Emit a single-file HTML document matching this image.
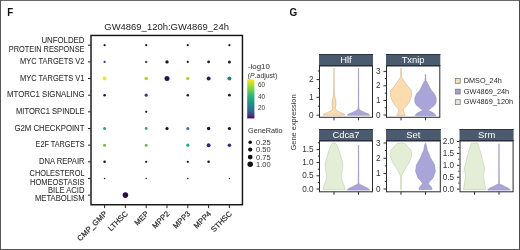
<!DOCTYPE html>
<html><head><meta charset="utf-8"><style>
html,body{margin:0;padding:0;background:#fff;width:520px;height:250px;overflow:hidden;position:relative}
text{font-family:"Liberation Sans", sans-serif}
text.k{stroke:#2a2a2a;stroke-width:0.05px}
text.kx{stroke:#2a2a2a;stroke-width:0.2px}
</style></head><body>
<svg width="520" height="250" viewBox="0 0 520 250" style="position:absolute;left:0;top:0;will-change:transform" font-family='"Liberation Sans", sans-serif'>
<rect x="0" y="0" width="520" height="250" fill="#fff"/>
<rect x="0" y="0" width="520" height="1" fill="#6a6a6a"/>
<rect x="0" y="0" width="1" height="250" fill="#575757"/>
<rect x="519" y="0" width="1" height="250" fill="#4a4a4a"/>
<rect x="0" y="249" width="520" height="1" fill="#555"/>
<text x="7.3" y="15.7" font-size="11" font-weight="bold" fill="#111" textLength="5.9" lengthAdjust="spacingAndGlyphs">F</text>
<text x="289.5" y="15.7" font-size="10" font-weight="bold" fill="#111" textLength="7.7" lengthAdjust="spacingAndGlyphs">G</text>
<text x="104.3" y="30.2" font-size="9.7" fill="#222" textLength="124.6" lengthAdjust="spacingAndGlyphs">GW4869_120h:GW4869_24h</text>
<rect x="91.0" y="35.45" width="151.45" height="169.3" fill="none" stroke="#151515" stroke-width="1.45"/>
<text x="41.4" y="42.5" class="k" font-size="8.2" fill="#2a2a2a" textLength="43.1" lengthAdjust="spacingAndGlyphs">UNFOLDED</text>
<text x="8.8" y="51.9" class="k" font-size="8.2" fill="#2a2a2a" textLength="75.7" lengthAdjust="spacingAndGlyphs">PROTEIN RESPONSE</text>
<line x1="88" x2="91.0" y1="45.2" y2="45.2" stroke="#222" stroke-width="1"/>
<text x="20.1" y="64.16" class="k" font-size="8.2" fill="#2a2a2a" textLength="64.4" lengthAdjust="spacingAndGlyphs">MYC TARGETS V2</text>
<line x1="88" x2="91.0" y1="61.86" y2="61.86" stroke="#222" stroke-width="1"/>
<text x="20" y="80.82000000000001" class="k" font-size="8.2" fill="#2a2a2a" textLength="64.5" lengthAdjust="spacingAndGlyphs">MYC TARGETS V1</text>
<line x1="88" x2="91.0" y1="78.52000000000001" y2="78.52000000000001" stroke="#222" stroke-width="1"/>
<text x="7" y="97.48" class="k" font-size="8.2" fill="#2a2a2a" textLength="77.5" lengthAdjust="spacingAndGlyphs">MTORC1 SIGNALING</text>
<line x1="88" x2="91.0" y1="95.18" y2="95.18" stroke="#222" stroke-width="1"/>
<text x="16" y="114.14" class="k" font-size="8.2" fill="#2a2a2a" textLength="68.5" lengthAdjust="spacingAndGlyphs">MITORC1 SPINDLE</text>
<line x1="88" x2="91.0" y1="111.84" y2="111.84" stroke="#222" stroke-width="1"/>
<text x="14.4" y="130.8" class="k" font-size="8.2" fill="#2a2a2a" textLength="70.1" lengthAdjust="spacingAndGlyphs">G2M CHECKPOINT</text>
<line x1="88" x2="91.0" y1="128.5" y2="128.5" stroke="#222" stroke-width="1"/>
<text x="35.6" y="147.46000000000004" class="k" font-size="8.2" fill="#2a2a2a" textLength="48.9" lengthAdjust="spacingAndGlyphs">E2F TARGETS</text>
<line x1="88" x2="91.0" y1="145.16000000000003" y2="145.16000000000003" stroke="#222" stroke-width="1"/>
<text x="39" y="164.12" class="k" font-size="8.2" fill="#2a2a2a" textLength="45.5" lengthAdjust="spacingAndGlyphs">DNA REPAIR</text>
<line x1="88" x2="91.0" y1="161.82" y2="161.82" stroke="#222" stroke-width="1"/>
<text x="29.6" y="176.1" class="k" font-size="8.2" fill="#2a2a2a" textLength="54.9" lengthAdjust="spacingAndGlyphs">CHOLESTEROL</text>
<text x="30" y="184.7" class="k" font-size="8.2" fill="#2a2a2a" textLength="54.5" lengthAdjust="spacingAndGlyphs">HOMEOSTASIS</text>
<line x1="88" x2="91.0" y1="178.48000000000002" y2="178.48000000000002" stroke="#222" stroke-width="1"/>
<text x="48" y="193.1" class="k" font-size="8.2" fill="#2a2a2a" textLength="36.5" lengthAdjust="spacingAndGlyphs">BILE ACID</text>
<text x="35" y="201.4" class="k" font-size="8.2" fill="#2a2a2a" textLength="49.5" lengthAdjust="spacingAndGlyphs">METABOLISM</text>
<line x1="88" x2="91.0" y1="195.14" y2="195.14" stroke="#222" stroke-width="1"/>
<line x1="104.6" x2="104.6" y1="204.75" y2="208.15" stroke="#222" stroke-width="1"/>
<text x="0" y="0" class="kx" font-size="7.6" fill="#2a2a2a" text-anchor="end" transform="translate(107.5,214.25) rotate(-45)">CMP_GMP</text>
<line x1="125.39999999999999" x2="125.39999999999999" y1="204.75" y2="208.15" stroke="#222" stroke-width="1"/>
<text x="0" y="0" class="kx" font-size="7.6" fill="#2a2a2a" text-anchor="end" transform="translate(128.29999999999998,214.25) rotate(-45)">LTHSC</text>
<line x1="146.2" x2="146.2" y1="204.75" y2="208.15" stroke="#222" stroke-width="1"/>
<text x="0" y="0" class="kx" font-size="7.6" fill="#2a2a2a" text-anchor="end" transform="translate(149.1,214.25) rotate(-45)">MEP</text>
<line x1="167.0" x2="167.0" y1="204.75" y2="208.15" stroke="#222" stroke-width="1"/>
<text x="0" y="0" class="kx" font-size="7.6" fill="#2a2a2a" text-anchor="end" transform="translate(169.9,214.25) rotate(-45)">MPP2</text>
<line x1="187.8" x2="187.8" y1="204.75" y2="208.15" stroke="#222" stroke-width="1"/>
<text x="0" y="0" class="kx" font-size="7.6" fill="#2a2a2a" text-anchor="end" transform="translate(190.70000000000002,214.25) rotate(-45)">MPP3</text>
<line x1="208.6" x2="208.6" y1="204.75" y2="208.15" stroke="#222" stroke-width="1"/>
<text x="0" y="0" class="kx" font-size="7.6" fill="#2a2a2a" text-anchor="end" transform="translate(211.5,214.25) rotate(-45)">MPP4</text>
<line x1="229.4" x2="229.4" y1="204.75" y2="208.15" stroke="#222" stroke-width="1"/>
<text x="0" y="0" class="kx" font-size="7.6" fill="#2a2a2a" text-anchor="end" transform="translate(232.3,214.25) rotate(-45)">STHSC</text>
<circle cx="104.6" cy="45.2" r="1.1" fill="#1a1a2e"/>
<circle cx="146.2" cy="45.2" r="1.1" fill="#1a1a2e"/>
<circle cx="187.8" cy="45.2" r="1.1" fill="#1a1a2e"/>
<circle cx="229.4" cy="45.2" r="1.1" fill="#1a1a2e"/>
<circle cx="104.6" cy="61.9" r="1.1" fill="#2d3570"/>
<circle cx="146.2" cy="61.9" r="1.2" fill="#2f4a66"/>
<circle cx="167.0" cy="61.9" r="1.7" fill="#161630"/>
<circle cx="187.8" cy="61.9" r="1.1" fill="#1a1a2e"/>
<circle cx="208.6" cy="61.9" r="1.4" fill="#1a1a36"/>
<circle cx="229.4" cy="61.9" r="1.5" fill="#1a1a36"/>
<circle cx="104.6" cy="78.5" r="1.9" fill="#e6ea2a"/>
<circle cx="146.2" cy="78.5" r="1.8" fill="#b5cf35"/>
<circle cx="167.0" cy="78.5" r="2.5" fill="#1e1a52"/>
<circle cx="187.8" cy="78.5" r="1.8" fill="#b5cf35"/>
<circle cx="208.6" cy="78.5" r="2.0" fill="#262060"/>
<circle cx="229.4" cy="78.5" r="2.0" fill="#22807e"/>
<circle cx="104.6" cy="95.2" r="1.3" fill="#1a1a2e"/>
<circle cx="146.2" cy="95.2" r="1.6" fill="#3b3a80"/>
<circle cx="187.8" cy="95.2" r="1.3" fill="#1a1a2e"/>
<circle cx="229.4" cy="95.2" r="1.4" fill="#1a1a30"/>
<circle cx="146.2" cy="111.8" r="1.1" fill="#1a1a2e"/>
<circle cx="104.6" cy="128.5" r="1.5" fill="#3b9e8c"/>
<circle cx="146.2" cy="128.5" r="1.4" fill="#4a9690"/>
<circle cx="167.0" cy="128.5" r="1.6" fill="#111"/>
<circle cx="187.8" cy="128.5" r="1.5" fill="#3d7888"/>
<circle cx="208.6" cy="128.5" r="1.7" fill="#141430"/>
<circle cx="229.4" cy="128.5" r="1.6" fill="#121228"/>
<circle cx="104.6" cy="145.2" r="1.5" fill="#7ab35a"/>
<circle cx="146.2" cy="145.2" r="1.5" fill="#7ab35a"/>
<circle cx="187.8" cy="145.2" r="1.6" fill="#29a88a"/>
<circle cx="208.6" cy="145.2" r="2.0" fill="#2a2f70"/>
<circle cx="229.4" cy="145.2" r="1.8" fill="#2a2e78"/>
<circle cx="104.6" cy="161.8" r="1.3" fill="#151515"/>
<circle cx="146.2" cy="161.8" r="1.1" fill="#151515"/>
<circle cx="187.8" cy="161.8" r="1.1" fill="#151515"/>
<circle cx="208.6" cy="161.8" r="1.3" fill="#151515"/>
<circle cx="104.6" cy="178.5" r="0.8" fill="#222"/>
<circle cx="146.2" cy="178.5" r="0.8" fill="#222"/>
<circle cx="187.8" cy="178.5" r="0.8" fill="#222"/>
<circle cx="229.4" cy="178.5" r="0.8" fill="#222"/>
<circle cx="125.39999999999999" cy="195.1" r="2.8" fill="#2e0c46"/>
<text x="247.9" y="69" font-size="7.6" fill="#2e2e2e" textLength="22" lengthAdjust="spacingAndGlyphs">-log10</text>
<text x="247.8" y="77.6" font-size="7.6" fill="#2e2e2e" textLength="29.4" lengthAdjust="spacingAndGlyphs">(<tspan font-style="italic">P</tspan>.adjust)</text>
<defs><linearGradient id="vir" x1="0" y1="0" x2="0" y2="1"><stop offset="0" stop-color="#fde725"/><stop offset="0.2" stop-color="#90d743"/><stop offset="0.4" stop-color="#35b779"/><stop offset="0.6" stop-color="#21918c"/><stop offset="0.8" stop-color="#31688e"/><stop offset="0.92" stop-color="#443983"/><stop offset="1" stop-color="#440154"/></linearGradient></defs>
<rect x="247.2" y="79.4" width="7.2" height="39" fill="url(#vir)"/>
<text x="257.9" y="87.3" font-size="7.7" fill="#333" textLength="7" lengthAdjust="spacingAndGlyphs">60</text>
<text x="257.9" y="98.8" font-size="7.7" fill="#333" textLength="7" lengthAdjust="spacingAndGlyphs">40</text>
<text x="257.9" y="110.3" font-size="7.7" fill="#333" textLength="7" lengthAdjust="spacingAndGlyphs">20</text>
<text x="248" y="133" font-size="7.6" fill="#2e2e2e" textLength="34.6" lengthAdjust="spacingAndGlyphs">GeneRatio</text>
<circle cx="250.2" cy="142.2" r="1.8" fill="#111"/>
<text x="256" y="144.6" font-size="7.7" fill="#333" textLength="14.6" lengthAdjust="spacingAndGlyphs">0.25</text>
<circle cx="250.2" cy="149.6" r="2.1" fill="#111"/>
<text x="256" y="152.0" font-size="7.7" fill="#333" textLength="14.6" lengthAdjust="spacingAndGlyphs">0.50</text>
<circle cx="250.2" cy="157.1" r="2.4" fill="#111"/>
<text x="256" y="159.5" font-size="7.7" fill="#333" textLength="14.6" lengthAdjust="spacingAndGlyphs">0.75</text>
<circle cx="250.2" cy="164.3" r="2.75" fill="#111"/>
<text x="256" y="166.70000000000002" font-size="7.7" fill="#333" textLength="14.6" lengthAdjust="spacingAndGlyphs">1.00</text>
<rect x="319" y="54" width="54" height="12" fill="#4b5b6f"/>
<rect x="319" y="54" width="54" height="1" fill="#2a3342"/>
<rect x="319" y="65" width="54" height="1" fill="#2a3342"/>
<text x="346.0" y="63.2" font-size="9.4" fill="#fff" text-anchor="middle">Hlf</text>
<path d="M334.10,68.20 L334.25,85.00 L334.55,94.00 L335.10,98.00 L335.90,101.00 L336.00,104.50 L335.50,107.00 L335.30,108.80 L336.80,110.70 L340.20,112.40 L344.30,114.10 L345.00,115.00 L344.50,115.30 L323.50,115.30 L323.00,115.00 L323.70,114.10 L327.80,112.40 L331.20,110.70 L332.70,108.80 L332.50,107.00 L332.00,104.50 L332.10,101.00 L332.90,98.00 L333.45,94.00 L333.75,85.00 L333.90,68.20 Z" fill="#fbdcae" stroke="#c9b096" stroke-width="0.55" stroke-linejoin="round"/>
<path d="M358.60,68.20 L358.65,100.00 L358.75,107.00 L358.90,108.50 L359.40,109.50 L361.00,110.70 L364.50,112.40 L368.50,114.10 L369.70,115.00 L369.30,115.30 L347.70,115.30 L347.30,115.00 L348.50,114.10 L352.50,112.40 L356.00,110.70 L357.60,109.50 L358.10,108.50 L358.25,107.00 L358.35,100.00 L358.40,68.20 Z" fill="#aaa5d8" stroke="#8e8ab4" stroke-width="0.55" stroke-linejoin="round"/>
<rect x="319.5" y="66" width="53" height="51.3" fill="none" stroke="#2a2a2a" stroke-width="1"/>
<line x1="316.5" x2="319" y1="79.6" y2="79.6" stroke="#2a2a2a" stroke-width="1"/>
<text x="313.6" y="82.1" font-size="8.2" fill="#333" text-anchor="end">2</text>
<line x1="316.5" x2="319" y1="97.3" y2="97.3" stroke="#2a2a2a" stroke-width="1"/>
<text x="313.6" y="99.8" font-size="8.2" fill="#333" text-anchor="end">1</text>
<line x1="316.5" x2="319" y1="115.2" y2="115.2" stroke="#2a2a2a" stroke-width="1"/>
<text x="313.6" y="117.7" font-size="8.2" fill="#333" text-anchor="end">0</text>
<line x1="317.8" x2="319" y1="71" y2="71" stroke="#2a2a2a" stroke-width="1"/>
<line x1="317.8" x2="319" y1="88.5" y2="88.5" stroke="#2a2a2a" stroke-width="1"/>
<line x1="317.8" x2="319" y1="106.2" y2="106.2" stroke="#2a2a2a" stroke-width="1"/>
<line x1="334" x2="334" y1="117.3" y2="120.3" stroke="#2a2a2a" stroke-width="1"/>
<line x1="358.5" x2="358.5" y1="117.3" y2="120.3" stroke="#2a2a2a" stroke-width="1"/>
<rect x="386" y="54" width="54.30000000000001" height="12" fill="#4b5b6f"/>
<rect x="386" y="54" width="54.30000000000001" height="1" fill="#2a3342"/>
<rect x="386" y="65" width="54.30000000000001" height="1" fill="#2a3342"/>
<text x="413.1" y="63.2" font-size="9.4" fill="#fff" text-anchor="middle">Txnip</text>
<path d="M401.20,68.20 L401.40,77.00 L402.50,78.50 L405.30,83.00 L408.50,87.00 L411.40,90.70 L411.50,95.60 L409.70,101.20 L406.60,105.70 L404.00,108.50 L403.10,110.30 L403.80,112.00 L404.40,113.60 L405.20,115.40 L396.80,115.40 L397.60,113.60 L398.20,112.00 L398.90,110.30 L398.00,108.50 L395.40,105.70 L392.30,101.20 L390.50,95.60 L390.60,90.70 L393.50,87.00 L396.70,83.00 L399.50,78.50 L400.60,77.00 L400.80,68.20 Z" fill="#fbdcae" stroke="#c9b096" stroke-width="0.55" stroke-linejoin="round"/>
<path d="M425.70,74.40 L425.90,80.60 L427.00,82.00 L428.50,85.00 L430.00,88.00 L431.50,90.70 L434.20,93.40 L436.20,97.90 L436.10,102.40 L434.50,105.20 L431.10,108.00 L428.20,110.20 L433.60,113.00 L435.90,115.30 L435.50,115.80 L415.50,115.80 L415.10,115.30 L417.40,113.00 L422.80,110.20 L419.90,108.00 L416.50,105.20 L414.90,102.40 L414.80,97.90 L416.80,93.40 L419.50,90.70 L421.00,88.00 L422.50,85.00 L424.00,82.00 L425.10,80.60 L425.30,74.40 Z" fill="#aaa5d8" stroke="#8e8ab4" stroke-width="0.55" stroke-linejoin="round"/>
<rect x="386.5" y="66" width="53.30000000000001" height="51.3" fill="none" stroke="#2a2a2a" stroke-width="1"/>
<line x1="383.5" x2="386" y1="71.4" y2="71.4" stroke="#2a2a2a" stroke-width="1"/>
<text x="380.6" y="73.9" font-size="8.2" fill="#333" text-anchor="end">3</text>
<line x1="383.5" x2="386" y1="85.8" y2="85.8" stroke="#2a2a2a" stroke-width="1"/>
<text x="380.6" y="88.3" font-size="8.2" fill="#333" text-anchor="end">2</text>
<line x1="383.5" x2="386" y1="100.5" y2="100.5" stroke="#2a2a2a" stroke-width="1"/>
<text x="380.6" y="103.0" font-size="8.2" fill="#333" text-anchor="end">1</text>
<line x1="383.5" x2="386" y1="115.0" y2="115.0" stroke="#2a2a2a" stroke-width="1"/>
<text x="380.6" y="117.5" font-size="8.2" fill="#333" text-anchor="end">0</text>
<line x1="384.8" x2="386" y1="78.6" y2="78.6" stroke="#2a2a2a" stroke-width="1"/>
<line x1="384.8" x2="386" y1="93.2" y2="93.2" stroke="#2a2a2a" stroke-width="1"/>
<line x1="384.8" x2="386" y1="107.8" y2="107.8" stroke="#2a2a2a" stroke-width="1"/>
<line x1="401" x2="401" y1="117.3" y2="120.3" stroke="#2a2a2a" stroke-width="1"/>
<line x1="425.5" x2="425.5" y1="117.3" y2="120.3" stroke="#2a2a2a" stroke-width="1"/>
<rect x="319" y="129" width="54" height="12" fill="#4b5b6f"/>
<rect x="319" y="129" width="54" height="1" fill="#2a3342"/>
<rect x="319" y="140" width="54" height="1" fill="#2a3342"/>
<text x="346.0" y="138.2" font-size="9.4" fill="#fff" text-anchor="middle">Cdca7</text>
<path d="M335.60,143.10 L337.40,146.00 L338.90,150.00 L341.00,157.00 L342.70,163.00 L342.70,169.50 L341.20,175.00 L341.90,180.00 L343.90,185.00 L344.80,188.00 L344.80,189.60 L323.20,189.60 L323.20,188.00 L324.10,185.00 L326.10,180.00 L326.80,175.00 L325.30,169.50 L325.30,163.00 L327.00,157.00 L329.10,150.00 L330.60,146.00 L332.40,143.10 Z" fill="#e4eed6" stroke="#bccaa6" stroke-width="0.55" stroke-linejoin="round"/>
<path d="M358.60,145.00 L358.65,170.00 L358.75,182.00 L358.90,183.50 L359.50,184.20 L363.50,186.20 L368.10,188.40 L369.70,189.80 L369.50,190.10 L347.50,190.10 L347.30,189.80 L348.90,188.40 L353.50,186.20 L357.50,184.20 L358.10,183.50 L358.25,182.00 L358.35,170.00 L358.40,145.00 Z" fill="#aaa5d8" stroke="#8e8ab4" stroke-width="0.55" stroke-linejoin="round"/>
<rect x="319.5" y="141" width="53" height="50.80000000000001" fill="none" stroke="#2a2a2a" stroke-width="1"/>
<line x1="316.5" x2="319" y1="149.6" y2="149.6" stroke="#2a2a2a" stroke-width="1"/>
<text x="313.6" y="152.1" font-size="8.2" fill="#333" text-anchor="end">1.5</text>
<line x1="316.5" x2="319" y1="162.6" y2="162.6" stroke="#2a2a2a" stroke-width="1"/>
<text x="313.6" y="165.1" font-size="8.2" fill="#333" text-anchor="end">1.0</text>
<line x1="316.5" x2="319" y1="175.8" y2="175.8" stroke="#2a2a2a" stroke-width="1"/>
<text x="313.6" y="178.3" font-size="8.2" fill="#333" text-anchor="end">0.5</text>
<line x1="316.5" x2="319" y1="189.0" y2="189.0" stroke="#2a2a2a" stroke-width="1"/>
<text x="313.6" y="191.5" font-size="8.2" fill="#333" text-anchor="end">0.0</text>
<line x1="317.8" x2="319" y1="142.8" y2="142.8" stroke="#2a2a2a" stroke-width="1"/>
<line x1="317.8" x2="319" y1="156.1" y2="156.1" stroke="#2a2a2a" stroke-width="1"/>
<line x1="317.8" x2="319" y1="169.2" y2="169.2" stroke="#2a2a2a" stroke-width="1"/>
<line x1="317.8" x2="319" y1="182.4" y2="182.4" stroke="#2a2a2a" stroke-width="1"/>
<line x1="334" x2="334" y1="191.8" y2="194.8" stroke="#2a2a2a" stroke-width="1"/>
<line x1="358.5" x2="358.5" y1="191.8" y2="194.8" stroke="#2a2a2a" stroke-width="1"/>
<rect x="386" y="129" width="54.80000000000001" height="12" fill="#4b5b6f"/>
<rect x="386" y="129" width="54.80000000000001" height="1" fill="#2a3342"/>
<rect x="386" y="140" width="54.80000000000001" height="1" fill="#2a3342"/>
<text x="413.4" y="138.2" font-size="9.4" fill="#fff" text-anchor="middle">Set</text>
<path d="M403.50,143.10 L405.20,143.80 L411.30,150.50 L411.70,156.00 L409.40,162.40 L404.90,169.00 L402.00,174.80 L401.30,177.00 L401.30,189.50 L400.70,189.50 L400.70,177.00 L400.00,174.80 L397.10,169.00 L392.60,162.40 L390.30,156.00 L390.70,150.50 L396.80,143.80 L398.50,143.10 Z" fill="#e4eed6" stroke="#bccaa6" stroke-width="0.55" stroke-linejoin="round"/>
<path d="M425.80,143.40 L426.70,147.00 L427.10,150.00 L429.00,154.00 L430.50,158.00 L434.50,164.70 L435.40,171.40 L433.00,178.10 L430.00,181.00 L428.30,183.70 L430.50,186.00 L432.00,188.20 L431.80,189.50 L419.20,189.50 L419.00,188.20 L420.50,186.00 L422.70,183.70 L421.00,181.00 L418.00,178.10 L415.60,171.40 L416.50,164.70 L420.50,158.00 L422.00,154.00 L423.90,150.00 L424.30,147.00 L425.20,143.40 Z" fill="#aaa5d8" stroke="#8e8ab4" stroke-width="0.55" stroke-linejoin="round"/>
<rect x="386.5" y="141" width="53.80000000000001" height="50.80000000000001" fill="none" stroke="#2a2a2a" stroke-width="1"/>
<line x1="383.5" x2="386" y1="143.0" y2="143.0" stroke="#2a2a2a" stroke-width="1"/>
<text x="380.6" y="145.5" font-size="8.2" fill="#333" text-anchor="end">3</text>
<line x1="383.5" x2="386" y1="158.3" y2="158.3" stroke="#2a2a2a" stroke-width="1"/>
<text x="380.6" y="160.8" font-size="8.2" fill="#333" text-anchor="end">2</text>
<line x1="383.5" x2="386" y1="173.6" y2="173.6" stroke="#2a2a2a" stroke-width="1"/>
<text x="380.6" y="176.1" font-size="8.2" fill="#333" text-anchor="end">1</text>
<line x1="383.5" x2="386" y1="189.0" y2="189.0" stroke="#2a2a2a" stroke-width="1"/>
<text x="380.6" y="191.5" font-size="8.2" fill="#333" text-anchor="end">0</text>
<line x1="384.8" x2="386" y1="150.6" y2="150.6" stroke="#2a2a2a" stroke-width="1"/>
<line x1="384.8" x2="386" y1="165.9" y2="165.9" stroke="#2a2a2a" stroke-width="1"/>
<line x1="384.8" x2="386" y1="181.3" y2="181.3" stroke="#2a2a2a" stroke-width="1"/>
<line x1="401" x2="401" y1="191.8" y2="194.8" stroke="#2a2a2a" stroke-width="1"/>
<line x1="425.5" x2="425.5" y1="191.8" y2="194.8" stroke="#2a2a2a" stroke-width="1"/>
<rect x="459.5" y="129" width="54.10000000000002" height="12" fill="#4b5b6f"/>
<rect x="459.5" y="129" width="54.10000000000002" height="1" fill="#2a3342"/>
<rect x="459.5" y="140" width="54.10000000000002" height="1" fill="#2a3342"/>
<text x="486.6" y="138.2" font-size="9.4" fill="#fff" text-anchor="middle">Srm</text>
<path d="M477.50,143.10 L479.70,149.60 L481.50,155.00 L482.60,161.20 L484.70,168.20 L483.50,176.30 L484.30,182.00 L485.50,188.60 L485.50,189.50 L463.50,189.50 L463.50,188.60 L464.70,182.00 L465.50,176.30 L464.30,168.20 L466.40,161.20 L467.50,155.00 L469.30,149.60 L471.50,143.10 Z" fill="#e4eed6" stroke="#bccaa6" stroke-width="0.55" stroke-linejoin="round"/>
<path d="M499.10,143.80 L499.15,170.00 L499.25,182.00 L499.40,183.50 L500.00,184.20 L504.30,186.20 L508.80,188.40 L510.30,189.80 L510.00,190.10 L488.00,190.10 L487.70,189.80 L489.20,188.40 L493.70,186.20 L498.00,184.20 L498.60,183.50 L498.75,182.00 L498.85,170.00 L498.90,143.80 Z" fill="#aaa5d8" stroke="#8e8ab4" stroke-width="0.55" stroke-linejoin="round"/>
<rect x="460.0" y="141" width="53.10000000000002" height="50.80000000000001" fill="none" stroke="#2a2a2a" stroke-width="1"/>
<line x1="457.0" x2="459.5" y1="141.5" y2="141.5" stroke="#2a2a2a" stroke-width="1"/>
<text x="454.1" y="144.0" font-size="8.2" fill="#333" text-anchor="end">2.0</text>
<line x1="457.0" x2="459.5" y1="153.4" y2="153.4" stroke="#2a2a2a" stroke-width="1"/>
<text x="454.1" y="155.9" font-size="8.2" fill="#333" text-anchor="end">1.5</text>
<line x1="457.0" x2="459.5" y1="165.3" y2="165.3" stroke="#2a2a2a" stroke-width="1"/>
<text x="454.1" y="167.8" font-size="8.2" fill="#333" text-anchor="end">1.0</text>
<line x1="457.0" x2="459.5" y1="177.2" y2="177.2" stroke="#2a2a2a" stroke-width="1"/>
<text x="454.1" y="179.7" font-size="8.2" fill="#333" text-anchor="end">0.5</text>
<line x1="457.0" x2="459.5" y1="189.1" y2="189.1" stroke="#2a2a2a" stroke-width="1"/>
<text x="454.1" y="191.6" font-size="8.2" fill="#333" text-anchor="end">0.0</text>
<line x1="458.3" x2="459.5" y1="147.4" y2="147.4" stroke="#2a2a2a" stroke-width="1"/>
<line x1="458.3" x2="459.5" y1="159.3" y2="159.3" stroke="#2a2a2a" stroke-width="1"/>
<line x1="458.3" x2="459.5" y1="171.2" y2="171.2" stroke="#2a2a2a" stroke-width="1"/>
<line x1="458.3" x2="459.5" y1="183.1" y2="183.1" stroke="#2a2a2a" stroke-width="1"/>
<line x1="474.5" x2="474.5" y1="191.8" y2="194.8" stroke="#2a2a2a" stroke-width="1"/>
<line x1="499.0" x2="499.0" y1="191.8" y2="194.8" stroke="#2a2a2a" stroke-width="1"/>
<text x="0" y="0" font-size="8" fill="#333" text-anchor="middle" textLength="56" lengthAdjust="spacingAndGlyphs" transform="translate(296.2,122.4) rotate(-90)">Gene expression</text>
<rect x="455.3" y="78.5" width="4.9" height="4.8" fill="#f3dfb8" stroke="#7e7c78" stroke-width="0.8"/>
<text x="463.8" y="82.9" font-size="8" fill="#2a2a2a" textLength="37.9" lengthAdjust="spacingAndGlyphs">DMSO_24h</text>
<rect x="455.3" y="89.19999999999999" width="4.9" height="4.8" fill="#a19dcd" stroke="#7e7c78" stroke-width="0.8"/>
<text x="463.8" y="93.6" font-size="8" fill="#2a2a2a" textLength="45.4" lengthAdjust="spacingAndGlyphs">GW4869_24h</text>
<rect x="455.3" y="99.69999999999999" width="4.9" height="4.8" fill="#e3e8d8" stroke="#7e7c78" stroke-width="0.8"/>
<text x="463.8" y="104.3" font-size="8" fill="#2a2a2a" textLength="49.4" lengthAdjust="spacingAndGlyphs">GW4869_120h</text>
</svg>
</body></html>
